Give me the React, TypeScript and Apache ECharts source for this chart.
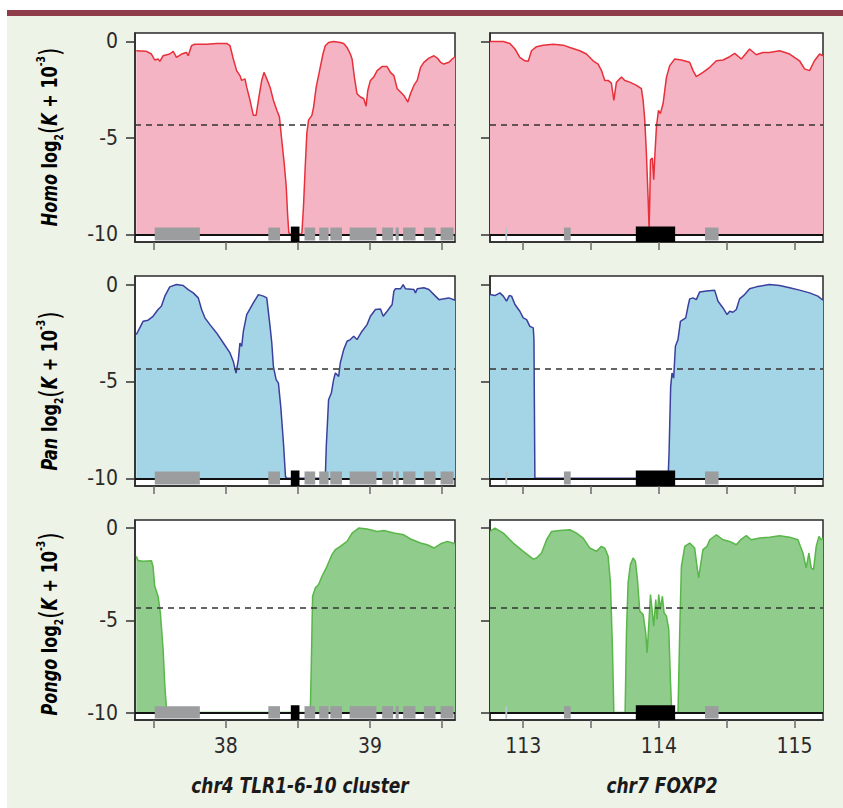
import React, { useEffect, useRef } from "react";
import * as echarts from "echarts";

// ---------- data ----------
const TLR_RANGE = [37.37, 39.59];
const FOX_RANGE = [112.755, 115.21];
const TLR_TICKS = [37.5, 38, 38.5, 39, 39.5];
const TLR_LABELS = [38, 39];
const FOX_TICKS = [113, 113.5, 114, 114.5, 115];
const FOX_LABELS = [113, 114, 115];
const Y_TICKS = [-10, -5, 0];
const THRESHOLD = -4.33;
const BASELINE = -10;

const X_TITLES = ["chr4 TLR1-6-10 cluster", "chr7 FOXP2"];
const SPECIES = ["Homo", "Pan", "Pongo"];

// genes: [start, end, kind] kind 0 = gray, 1 = black (target), 2 = light
const tlrGenes = [
  [37.507, 37.82, 0], [38.295, 38.376, 0], [38.451, 38.511, 1], [38.546, 38.62, 0],
  [38.648, 38.713, 0], [38.725, 38.806, 0], [38.859, 39.045, 0], [39.085, 39.161, 0],
  [39.178, 39.2, 0], [39.23, 39.316, 0], [39.374, 39.455, 0], [39.49, 39.58, 0],
];
const foxGenes = [
  [112.868, 112.882, 2], [113.3, 113.35, 0], [113.83, 114.12, 1], [114.34, 114.44, 0],
];

const homoTLR = [
  [37.379, -0.48], [37.449, -0.51], [37.484, -0.65], [37.507, -0.96], [37.53, -0.91], [37.542, -1.03],
  [37.565, -0.74], [37.611, -0.65], [37.635, -0.51], [37.658, -0.82], [37.693, -0.65], [37.727, -0.57],
  [37.739, -0.74], [37.762, -0.22], [37.785, -0.14], [37.867, -0.14], [37.936, -0.1], [38.006, -0.1],
  [38.029, -0.22], [38.052, -0.91], [38.075, -1.51], [38.098, -1.77], [38.11, -2.02], [38.133, -1.94],
  [38.145, -2.37], [38.168, -3.05], [38.191, -3.83], [38.21, -3.83], [38.226, -3.05], [38.249, -2.02],
  [38.265, -1.6], [38.284, -1.94], [38.307, -2.37], [38.33, -3.05], [38.354, -3.57], [38.372, -3.91],
  [38.388, -5.11], [38.405, -6.31], [38.419, -7.51], [38.428, -8.89], [38.437, -9.91], [38.446, -10],
  [38.52, -10], [38.528, -9.91], [38.539, -8.54], [38.551, -6.48], [38.562, -4.77], [38.574, -4.08],
  [38.597, -3.83], [38.609, -3.4], [38.627, -2.37], [38.655, -1.34], [38.674, -0.65], [38.69, -0.22],
  [38.713, -0.05], [38.748, 0], [38.794, -0.05], [38.818, -0.1], [38.841, -0.31], [38.864, -0.65],
  [38.876, -0.91], [38.892, -1.85], [38.91, -2.71], [38.934, -2.88], [38.957, -2.97], [38.973, -3.36],
  [38.985, -2.54], [39.003, -2.02], [39.026, -1.85], [39.05, -1.51], [39.084, -1.3], [39.119, -1.3],
  [39.142, -1.6], [39.166, -1.77], [39.189, -2.45], [39.212, -2.62], [39.235, -2.8], [39.263, -3.14],
  [39.281, -2.71], [39.305, -2.28], [39.328, -2.02], [39.351, -1.34], [39.374, -1.08], [39.409, -0.86],
  [39.444, -0.74], [39.467, -0.86], [39.49, -1.08], [39.513, -1.17], [39.548, -1.08], [39.571, -0.91],
  [39.59, -0.79],
];

const homoFOX = [
  [112.755, 0], [112.853, 0], [112.902, -0.1], [112.939, -0.39], [112.975, -0.82], [113.012, -1.0],
  [113.037, -1.03], [113.061, -0.48], [113.098, -0.27], [113.147, -0.19], [113.221, -0.14], [113.295, -0.19],
  [113.344, -0.31], [113.417, -0.48], [113.466, -0.65], [113.515, -1.0], [113.552, -1.17], [113.577, -1.51],
  [113.601, -2.02], [113.626, -2.02], [113.65, -2.16], [113.668, -3.05], [113.687, -2.11], [113.724, -1.85],
  [113.749, -2.02], [113.785, -2.11], [113.835, -2.28], [113.871, -2.45], [113.884, -3.05], [113.896, -4.08],
  [113.908, -5.8], [113.921, -8.2], [113.928, -9.74], [113.933, -8.2], [113.938, -6.14], [113.952, -6.05],
  [113.962, -7.17], [113.97, -5.97], [113.982, -4.43], [113.997, -3.57], [114.011, -3.74], [114.031, -3.22],
  [114.056, -1.85], [114.08, -1.25], [114.117, -0.91], [114.166, -0.96], [114.227, -1.08], [114.252, -1.51],
  [114.276, -1.82], [114.325, -1.6], [114.375, -1.34], [114.424, -1.0], [114.473, -0.96], [114.522, -0.79],
  [114.559, -0.62], [114.608, -0.91], [114.669, -0.39], [114.718, -0.69], [114.767, -0.57], [114.816, -0.57],
  [114.89, -0.48], [114.964, -0.65], [115.037, -1.0], [115.074, -1.42], [115.111, -1.51], [115.147, -1.0],
  [115.185, -0.65], [115.21, -0.74],
];

const panTLR = [
  [37.379, -2.59], [37.403, -2.24], [37.426, -1.9], [37.461, -1.84], [37.495, -1.64], [37.53, -1.29],
  [37.553, -1.12], [37.577, -0.6], [37.611, -0.12], [37.658, 0], [37.704, -0.05], [37.739, -0.26],
  [37.774, -0.43], [37.809, -0.69], [37.832, -1.29], [37.855, -1.72], [37.89, -2.07], [37.936, -2.5],
  [37.983, -3.02], [38.029, -3.53], [38.052, -3.97], [38.071, -4.57], [38.087, -3.88], [38.098, -3.02],
  [38.11, -3.19], [38.122, -2.41], [38.145, -1.55], [38.191, -0.95], [38.226, -0.52], [38.261, -0.6],
  [38.284, -0.69], [38.307, -2.16], [38.319, -3.02], [38.33, -4.22], [38.349, -4.91], [38.365, -5.09],
  [38.381, -6.29], [38.4, -8.19], [38.414, -9.91], [38.423, -10], [38.69, -10], [38.697, -8.36],
  [38.713, -5.95], [38.732, -5.6], [38.748, -4.91], [38.76, -4.57], [38.783, -4.74], [38.794, -4.05],
  [38.818, -3.36], [38.841, -2.93], [38.864, -2.84], [38.887, -2.67], [38.91, -2.84], [38.945, -2.41],
  [38.98, -2.07], [39.003, -1.64], [39.038, -1.29], [39.073, -1.26], [39.092, -1.64], [39.119, -1.38],
  [39.154, -1.03], [39.166, -0.34], [39.177, -0.22], [39.212, -0.22], [39.23, 0], [39.247, -0.22],
  [39.305, -0.26], [39.316, -0.43], [39.328, -0.22], [39.374, -0.17], [39.409, -0.26], [39.444, -0.52],
  [39.479, -0.78], [39.513, -0.74], [39.548, -0.69], [39.59, -0.81],
];

const panFOX = [
  [112.755, -0.52], [112.791, -0.57], [112.828, -0.43], [112.853, -0.6], [112.877, -0.86], [112.897, -0.57],
  [112.914, -0.6], [112.939, -1.03], [112.975, -1.38], [113.0, -1.72], [113.025, -1.81], [113.049, -2.16],
  [113.074, -2.24], [113.079, -2.84], [113.086, -10], [114.068, -10], [114.075, -8.71], [114.087, -5.26],
  [114.097, -4.57], [114.109, -4.83], [114.122, -3.19], [114.141, -2.84], [114.159, -1.9], [114.178, -1.81],
  [114.198, -1.72], [114.215, -1.12], [114.227, -0.74], [114.252, -0.69], [114.276, -0.78], [114.301, -0.38],
  [114.35, -0.34], [114.411, -0.29], [114.436, -0.86], [114.473, -1.21], [114.503, -1.55], [114.522, -1.38],
  [114.546, -1.43], [114.571, -1.29], [114.595, -0.74], [114.632, -0.52], [114.669, -0.22], [114.718, -0.12],
  [114.816, 0], [114.89, -0.05], [114.964, -0.17], [115.037, -0.29], [115.111, -0.43], [115.172, -0.6],
  [115.21, -0.81],
];

const pongoTLR = [
  [37.379, -1.53], [37.391, -1.75], [37.426, -1.8], [37.484, -1.77], [37.495, -2.07], [37.507, -3.15],
  [37.53, -3.69], [37.546, -4.59], [37.565, -6.58], [37.577, -8.56], [37.588, -9.73], [37.595, -10],
  [38.586, -10], [38.593, -7.48], [38.602, -3.69], [38.621, -3.24], [38.644, -3.06], [38.667, -2.61],
  [38.702, -2.07], [38.736, -1.44], [38.76, -1.17], [38.794, -0.99], [38.841, -0.72], [38.876, -0.27],
  [38.922, 0], [38.98, -0.05], [39.05, -0.18], [39.096, -0.13], [39.166, -0.27], [39.235, -0.36],
  [39.281, -0.59], [39.351, -0.81], [39.397, -0.9], [39.444, -1.08], [39.49, -0.85], [39.537, -0.72],
  [39.59, -0.85],
];

const pongoFOX = [
  [112.755, -0.18], [112.791, 0], [112.853, -0.27], [112.926, -0.81], [113.0, -1.26], [113.074, -1.68],
  [113.098, -1.62], [113.135, -1.35], [113.172, -0.63], [113.209, -0.18], [113.27, -0.13], [113.344, -0.09],
  [113.393, -0.27], [113.442, -0.54], [113.491, -1.08], [113.54, -1.26], [113.577, -0.99], [113.601, -1.08],
  [113.626, -1.53], [113.643, -2.97], [113.658, -6.58], [113.668, -10], [113.751, -10], [113.761, -5.68],
  [113.773, -2.97], [113.79, -1.98], [113.81, -1.62], [113.827, -1.8], [113.842, -2.79], [113.859, -4.5],
  [113.884, -4.68], [113.903, -5.68], [113.913, -6.76], [113.925, -5.32], [113.938, -3.6], [113.95, -4.41],
  [113.962, -5.32], [113.977, -3.87], [113.987, -4.95], [113.999, -3.6], [114.011, -4.41], [114.026, -3.69],
  [114.038, -4.59], [114.056, -4.77], [114.073, -5.5], [114.085, -8.2], [114.095, -10], [114.141, -10],
  [114.154, -5.5], [114.166, -2.07], [114.191, -0.99], [114.227, -0.81], [114.264, -1.08], [114.281, -2.07],
  [114.293, -2.7], [114.306, -2.07], [114.325, -1.17], [114.355, -0.99], [114.375, -0.63], [114.424, -0.36],
  [114.473, -0.63], [114.522, -0.72], [114.571, -0.9], [114.608, -0.59], [114.645, -0.41], [114.681, -0.63],
  [114.743, -0.54], [114.816, -0.49], [114.89, -0.41], [114.964, -0.49], [115.025, -0.63], [115.062, -1.35],
  [115.086, -2.16], [115.106, -1.35], [115.123, -2.16], [115.14, -2.25], [115.16, -0.99], [115.18, -0.45],
  [115.197, -0.63], [115.21, -0.54],
];

// ---------- styles ----------
const NARROW = "'Liberation Sans Narrow', 'DejaVu Sans Condensed', sans-serif";
const COLORS = [
  { line: "#e8303a", fill: "#f5b4c4" },
  { line: "#3b3f9e", fill: "#a4d5e6" },
  { line: "#58b748", fill: "#90cc8b" },
];
const GENE_COLORS = ["#9b9d9f", "#000000", "#b9c5cc"];
const COL_LEFT = [135, 490];
const COL_W = [320, 333];
const ROW_TOP = [33, 276, 520];
const ROW_H = [209, 210, 200];
const Y_MIN = -10.4;
const Y_MAX = 0.44;

const PANELS = [
  { data: homoTLR, genes: tlrGenes, row: 0, col: 0 },
  { data: homoFOX, genes: foxGenes, row: 0, col: 1 },
  { data: panTLR, genes: tlrGenes, row: 1, col: 0 },
  { data: panFOX, genes: foxGenes, row: 1, col: 1 },
  { data: pongoTLR, genes: tlrGenes, row: 2, col: 0 },
  { data: pongoFOX, genes: foxGenes, row: 2, col: 1 },
];

function buildOption() {
  const grid: any[] = [];
  const xAxis: any[] = [];
  const yAxis: any[] = [];
  const series: any[] = [];
  PANELS.forEach((p, i) => {
    const tlr = p.col === 0;
    grid.push({
      left: COL_LEFT[p.col],
      width: COL_W[p.col],
      top: ROW_TOP[p.row],
      height: ROW_H[p.row],
      show: true,
      backgroundColor: "#ffffff",
      borderColor: "#2a2a2a",
      borderWidth: 1.5,
      outerBoundsMode: "none",
    });
    xAxis.push({
      gridIndex: i,
      type: "value",
      position: "bottom",
      min: tlr ? TLR_RANGE[0] : FOX_RANGE[0],
      max: tlr ? TLR_RANGE[1] : FOX_RANGE[1],
      axisLine: { show: true, onZero: false, lineStyle: { color: "#2a2a2a", width: 1.5 } },
      splitLine: { show: false },
      axisTick: {
        show: true,
        customValues: tlr ? TLR_TICKS : FOX_TICKS,
        length: 8,
        lineStyle: { color: "#6a6a6a", width: 1.5 },
      },
      axisLabel: {
        show: p.row === 2,
        customValues: tlr ? TLR_LABELS : FOX_LABELS,
        margin: 15,
        fontFamily: NARROW,
        fontSize: 21,
        color: "#2a2a2a",
      },
    });
    yAxis.push({
      gridIndex: i,
      type: "value",
      position: "left",
      min: Y_MIN,
      max: Y_MAX,
      axisLine: { show: true, onZero: false, lineStyle: { color: "#2a2a2a", width: 1.5 } },
      splitLine: { show: false },
      axisTick: {
        show: true,
        customValues: Y_TICKS,
        length: 9,
        lineStyle: { color: "#333", width: 1.5 },
      },
      axisLabel: {
        show: p.col === 0,
        customValues: Y_TICKS,
        margin: 17,
        fontFamily: NARROW,
        fontSize: 21,
        color: "#2a2a2a",
      },
    });
    const c = COLORS[p.row];
    series.push({
      type: "line",
      xAxisIndex: i,
      yAxisIndex: i,
      data: p.data,
      showSymbol: false,
      symbol: "none",
      z: 2,
      lineStyle: { color: c.line, width: 1.5 },
      areaStyle: { color: c.fill, opacity: 1, origin: BASELINE },
      markLine: {
        silent: true,
        symbol: "none",
        label: { show: false },
        data: [
          { yAxis: THRESHOLD, lineStyle: { type: [6, 5], color: "#333", width: 1.6 } },
          { yAxis: BASELINE, lineStyle: { type: "solid", color: "#111", width: 2 } },
        ],
      },
    });
    series.push({
      type: "custom",
      xAxisIndex: i,
      yAxisIndex: i,
      data: p.genes,
      z: 5,
      silent: true,
      encode: { x: [0, 1], y: -1 },
      clip: true,
      renderItem: (params: any, api: any) => {
        const kind = api.value(2);
        const top = kind === 1 ? -9.6 : -9.65;
        const bottom = kind === 1 ? -10.45 : -10.32;
        const p0 = api.coord([api.value(0), top]);
        const p1 = api.coord([api.value(1), bottom]);
        return {
          type: "rect",
          shape: { x: p0[0], y: p0[1], width: Math.max(1.5, p1[0] - p0[0]), height: p1[1] - p0[1] },
          style: { fill: GENE_COLORS[kind] },
        };
      },
    });
  });

  const labelRich = {
    it: { fontFamily: NARROW, fontSize: 21, fontWeight: "bold", fontStyle: "italic", color: "#1a1a1a" },
    b: { fontFamily: NARROW, fontSize: 21, fontWeight: "bold", color: "#1a1a1a" },
    sub: { fontFamily: NARROW, fontSize: 12, fontWeight: "bold", color: "#1a1a1a", verticalAlign: "bottom", lineHeight: 12 },
    sup: { fontFamily: NARROW, fontSize: 12, fontWeight: "bold", color: "#1a1a1a", verticalAlign: "top", lineHeight: 12 },
    par: { fontFamily: NARROW, fontSize: 28, color: "#1a1a1a", lineHeight: 30 },
  };
  const yCenters = [137, 391, 624];
  const graphic: any[] = SPECIES.map((s, r) => ({
    type: "text",
    x: 50,
    y: yCenters[r],
    rotation: Math.PI / 2,
    scaleX: 0.85,
    z: 100,
    style: {
      text: `{it|${s}}{b| log}{sub|2}{par|(}{it|K}{b| + 10}{sup|-3}{par|)}`,
      rich: labelRich,
      align: "center",
      verticalAlign: "middle",
    },
  }));
  const xCenters = [300, 662];
  X_TITLES.forEach((t, k) => {
    graphic.push({
      type: "text",
      x: xCenters[k],
      y: 785,
      scaleX: 0.86,
      z: 100,
      style: {
        text: t,
        fontFamily: NARROW,
        fontSize: 22,
        fontWeight: "bold",
        fontStyle: "italic",
        fill: "#1a1a1a",
        align: "center",
        verticalAlign: "middle",
      },
    });
  });

  return {
    animation: false,
    backgroundColor: "transparent",
    grid,
    xAxis,
    yAxis,
    series,
    graphic,
  };
}

export default function App() {
  const ref = useRef<HTMLDivElement>(null);
  useEffect(() => {
    if (!ref.current) return;
    const chart = echarts.init(ref.current, undefined, { renderer: "svg" });
    chart.setOption(buildOption() as any);
    return () => chart.dispose();
  }, []);
  return (
    <div style={{ position: "absolute", left: 0, top: 0, width: 843, height: 808, background: "#ffffff" }}>
      <div style={{ position: "absolute", left: 7, top: 10, width: 836, height: 6, background: "#8f3d4a" }} />
      <div style={{ position: "absolute", left: 7, top: 16, width: 836, height: 792, background: "#eef3e7" }} />
      <div ref={ref} style={{ position: "absolute", left: 0, top: 0, width: 843, height: 808 }} />
    </div>
  );
}
